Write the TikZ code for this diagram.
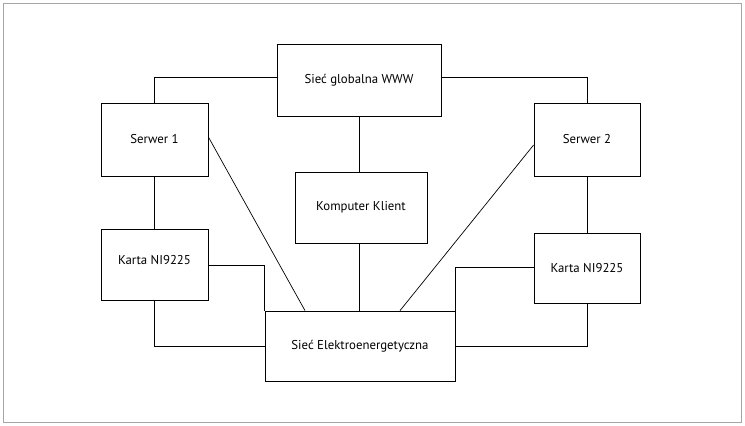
\documentclass[tikz,border=0pt]{standalone}
\usepackage{fontspec}
\setmainfont{PT Sans}
\begin{document}
\begin{tikzpicture}[x=1pt,y=-1pt,
  box/.style={draw,line width=0.8pt,inner sep=0pt,font=\fontsize{12.8}{14}\selectfont},
  ln/.style={line width=0.7pt}]
\useasboundingbox (0,0) rectangle (745,426);
\draw[gray!70,line width=0.8pt] (3,3) rectangle (741,422);
\node[box,minimum width=164pt,minimum height=72pt] (www) at (359,80) {Sieć globalna WWW};
\node[box,minimum width=107pt,minimum height=73pt] (s1) at (154.5,139.5) {Serwer 1};
\node[box,minimum width=106pt,minimum height=73pt] (s2) at (587,139.5) {Serwer 2};
\node[box,minimum width=132pt,minimum height=71pt] (kk) at (361,207.5) {Komputer Klient};
\node[box,minimum width=107pt,minimum height=71pt,text depth=10pt] (k1) at (154.5,264.5) {Karta NI9225};
\node[box,minimum width=106pt,minimum height=70pt] (k2) at (587,268) {Karta NI9225};
\node[box,minimum width=190pt,minimum height=70pt] (se) at (360,346) {Sieć Elektroenergetyczna};
\draw[ln] (www.west |- 0,77) -| (s1.north);
\draw[ln] (www.east |- 0,77) -| (s2.north);
\draw[ln] (www.south -| 359,0) -- (kk.north -| 359,0);
\draw[ln] (kk.south -| 359,0) -- (se.north -| 359,0);
\draw[ln] (s1.east |- 0,137) -- (se.north -| 305,0);
\draw[ln] (s2.west |- 0,145) -- (se.north -| 400,0);
\draw[ln] (s1.south) -- (k1.north);
\draw[ln] (s2.south) -- (k2.north);
\draw[ln] (k1.east |- 0,265) -| (se.north west);
\draw[ln] (k2.west |- 0,267) -| (se.north east);
\draw[ln] (k1.south) |- (se.west);
\draw[ln] (k2.south) |- (se.east);
\end{tikzpicture}
\end{document}
